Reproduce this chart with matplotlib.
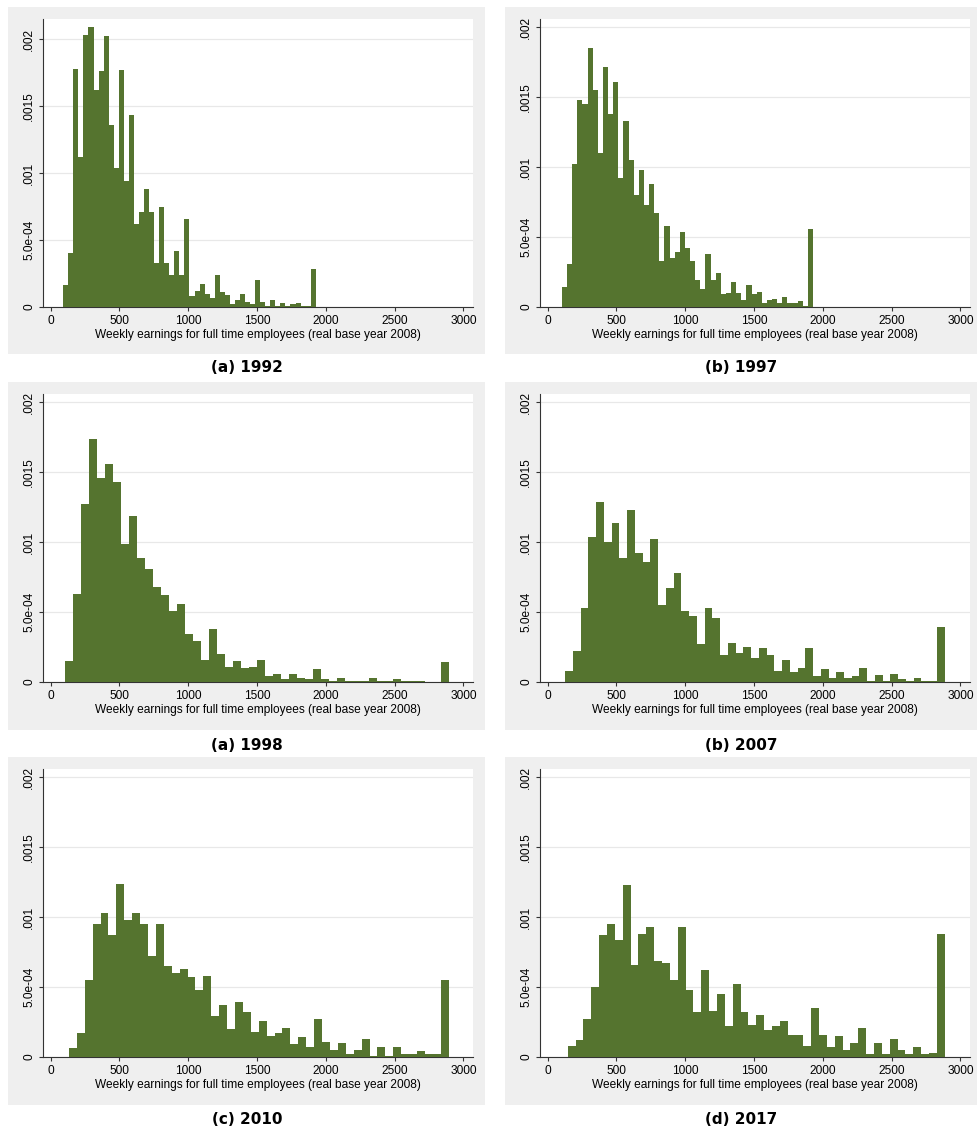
import numpy as np
import matplotlib
matplotlib.use('Agg')
import matplotlib.pyplot as plt
from matplotlib.patches import Rectangle

# Densidades (histogramas de rendimentos semanais)
captions = ['(a) 1992', '(b) 1997', '(a) 1998', '(b) 2007', '(c) 2010', '(d) 2017']
bin_lo = [92, 104, 106, 128, 133, 147]
bin_hi = [1927, 1930, 2893, 2886, 2893, 2886]

dens_1992 = [0.000162, 0.00040, 0.00178, 0.00112, 0.00203, 0.00209, 0.00162, 0.00176, 0.00202, 0.00136,
             0.00104, 0.00177, 0.00094, 0.00143, 0.00062, 0.00071, 0.00088, 0.00071, 0.00033, 0.00075,
             0.00033, 0.00024, 0.00042, 0.00024, 0.00066, 0.00008, 0.00012, 0.00017, 0.00010, 0.00007,
             0.00024, 0.00011, 0.00009, 0.00002, 0.00005, 0.00010, 0.00004, 0.00002, 0.00020, 0.00004,
             0.00001, 0.00005, 0.00001, 0.00003, 0.00001, 0.00002, 0.00003, 0.00001, 0.00001, 0.00028]
dens_1997 = [0.000143, 0.00031, 0.00102, 0.00148, 0.00145, 0.00185, 0.00155, 0.00110, 0.00172, 0.00138,
             0.00161, 0.00092, 0.00133, 0.00105, 0.00080, 0.00098, 0.00073, 0.00088, 0.00067, 0.00033,
             0.00058, 0.00035, 0.00039, 0.00054, 0.00042, 0.00033, 0.00019, 0.00013, 0.00038, 0.00019,
             0.00024, 0.00009, 0.00010, 0.00018, 0.00010, 0.00005, 0.00016, 0.00009, 0.00011, 0.00003,
             0.00005, 0.00006, 0.00003, 0.00007, 0.00003, 0.00003, 0.00004, 0.00001, 0.00056]
dens_1998 = [0.00015, 0.00063, 0.00127, 0.00174, 0.00146, 0.00156, 0.00143, 0.00099, 0.00119, 0.00089,
             0.00081, 0.00068, 0.00062, 0.00051, 0.00056, 0.00034, 0.00029, 0.00016, 0.00038, 0.00020,
             0.00011, 0.00015, 0.00010, 0.00011, 0.00016, 0.00004, 0.00006, 0.00002, 0.00006, 0.00003,
             0.00002, 0.00009, 0.00002, 0.00001, 0.00003, 0.00001, 0.00001, 0.00001, 0.00003, 0.00001,
             0.00001, 0.00002, 0.000005, 0.00001, 0.00001, 0.000003, 0.000003, 0.00014]
dens_2007 = [0.000076, 0.00022, 0.00053, 0.00104, 0.00129, 0.00100, 0.00114, 0.00089, 0.00123, 0.00092,
             0.00086, 0.00102, 0.00055, 0.00067, 0.00078, 0.00051, 0.00047, 0.00027, 0.00053, 0.00046,
             0.00019, 0.00028, 0.00021, 0.00025, 0.00017, 0.00024, 0.00019, 0.00008, 0.00016, 0.00007,
             0.00010, 0.00024, 0.00004, 0.00009, 0.00003, 0.00007, 0.00003, 0.00004, 0.00010, 0.00001,
             0.00005, 0.00001, 0.00006, 0.00002, 0.00001, 0.00003, 0.00001, 0.00001, 0.00039]
dens_2010 = [0.000064, 0.00017, 0.00055, 0.00095, 0.00103, 0.00087, 0.00124, 0.00098, 0.00103, 0.00095,
             0.00072, 0.00095, 0.00065, 0.00060, 0.00063, 0.00057, 0.00048, 0.00058, 0.00029, 0.00037,
             0.00020, 0.00039, 0.00032, 0.00018, 0.00026, 0.00015, 0.00017, 0.00021, 0.00009, 0.00014,
             0.00007, 0.00027, 0.00011, 0.00005, 0.00010, 0.00002, 0.00005, 0.00013, 0.00001, 0.00007,
             0.00001, 0.00007, 0.00002, 0.00002, 0.00004, 0.00002, 0.00002, 0.00055]
dens_2017 = [0.00008, 0.00012, 0.00027, 0.00050, 0.00087, 0.00095, 0.00084, 0.00123, 0.00066, 0.00088,
             0.00093, 0.00069, 0.00067, 0.00055, 0.00093, 0.00048, 0.00032, 0.00062, 0.00033, 0.00045,
             0.00022, 0.00052, 0.00032, 0.00023, 0.00030, 0.00019, 0.00022, 0.00026, 0.00016, 0.00016,
             0.00008, 0.00035, 0.00016, 0.00007, 0.00015, 0.00005, 0.00010, 0.00021, 0.00002, 0.00010,
             0.00002, 0.00013, 0.00005, 0.00002, 0.00007, 0.00002, 0.00003, 0.00088]

all_dens = [dens_1992, dens_1997, dens_1998, dens_2007, dens_2010, dens_2017]

y_ticks = [0, 0.0005, 0.001, 0.0015, 0.002]
y_ticklabels = ['0', '5.0e-04', '.001', '.0015', '.002']
x_ticks = [0, 500, 1000, 1500, 2000, 2500, 3000]
xlabel = 'Weekly earnings for full time employees (real base year 2008)'

bar_color = '#55742f'
bg_color = '#efefef'
W, H = 977, 1134

plt.rcParams['font.family'] = ['Liberation Sans', 'DejaVu Sans']

fig = plt.figure(figsize=(W / 100, H / 100), dpi=100)

# posições em pixels: (esquerda, topo) das caixas cinzentas e dos eixos
box_x = [(8, 485), (505, 977)]
box_y = [(7, 354), (382, 730), (757, 1105)]
ax_x = [43, 540]
ax_top = [19, 394, 769]
ax_w, ax_h = 430, 288
cap_y = [368, 745, 1120]
cap_x = [247, 741]

for i, dens in enumerate(all_dens):
    r, c = divmod(i, 2)
    bx0, bx1 = box_x[c]
    by0, by1 = box_y[r]
    fig.patches.append(Rectangle((bx0 / W, 1 - by1 / H), (bx1 - bx0) / W, (by1 - by0) / H,
                                 transform=fig.transFigure, facecolor=bg_color,
                                 edgecolor='none', zorder=-5))
    ax = fig.add_axes([ax_x[c] / W, 1 - (ax_top[r] + ax_h) / H, ax_w / W, ax_h / H])
    ax.set_facecolor('white')

    edges = np.linspace(bin_lo[i], bin_hi[i], len(dens) + 1)
    ax.bar(edges[:-1], dens, width=np.diff(edges), align='edge',
           color=bar_color, edgecolor='none', linewidth=0, zorder=3)

    ax.set_xlim(-55, 3070)
    ax.set_ylim(0, 0.00215 if i == 0 else 0.00206)
    ax.set_yticks(y_ticks)
    ax.set_yticklabels(y_ticklabels, rotation=90, va='center', fontsize=8.6)
    ax.set_xticks(x_ticks)
    ax.set_xticklabels([str(t) for t in x_ticks], fontsize=8.6)
    ax.tick_params(axis='both', direction='out', length=3, width=0.8, color='#333333', pad=2.5)
    ax.grid(axis='y', color='#e8e8e8', linewidth=0.9, zorder=0)
    ax.set_axisbelow(True)
    for s in ['top', 'right']:
        ax.spines[s].set_visible(False)
    for s in ['left', 'bottom']:
        ax.spines[s].set_color('#333333')
        ax.spines[s].set_linewidth(0.8)
    ax.set_xlabel(xlabel, fontsize=8.6, labelpad=1.5)

    fig.text(cap_x[c] / W, 1 - cap_y[r] / H, captions[i], ha='center', va='center',
             fontsize=11, fontweight='bold', family='DejaVu Sans')

fig.savefig('out.png', dpi=100, facecolor='white')
